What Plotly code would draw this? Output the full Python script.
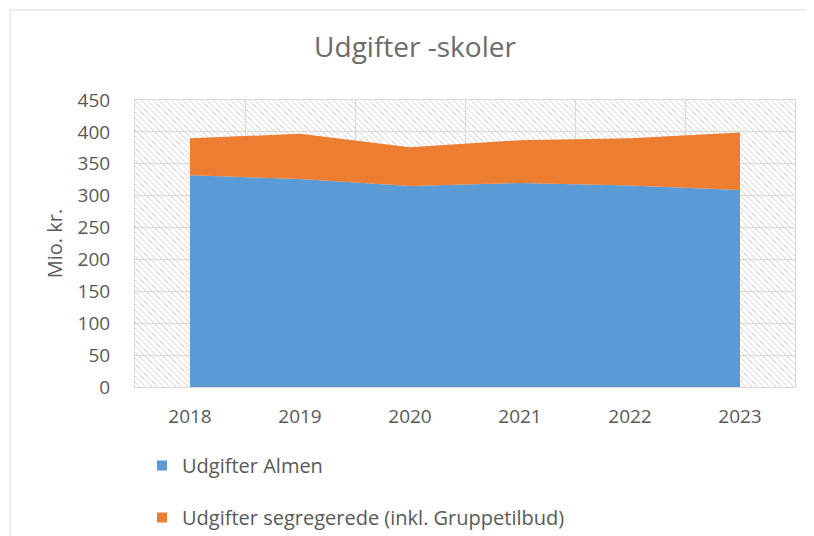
import base64
import plotly.graph_objects as go

years = ["2018", "2019", "2020", "2021", "2022", "2023"]
almen = [332, 326, 315, 320, 316, 309]
segregerede = [58, 71, 61, 67, 74, 90]
name_almen = "Udgifter Almen"
name_seg = "Udgifter segregerede (inkl. Gruppetilbud)"
title_text = "Udgifter -skoler"
ytitle = "Mio. kr."
BLUE, ORANGE = "#5b9bd5", "#ed7d31"

FONT = "'Open Sans', sans-serif"
GRAY = "#595959"
GRID = "#d9d9d9"

# page body has an 8px margin, so all positions are shifted 8px up/left;
# the figure runs a little past the bottom of the window (chart frame is cut there)
W, H = 806, 560
L, R, T, B = 127, 19, 92, 0
PW, PH = W - L - R, H - T - B
PLOT_BOTTOM = 379
ydom0 = (H - B - PLOT_BOTTOM) / PH
PLOT_H = PLOT_BOTTOM - T

svg = (
    f'<svg xmlns="http://www.w3.org/2000/svg" width="{PW}" height="{PLOT_H}">'
    '<defs><pattern id="h" width="6" height="6" patternUnits="userSpaceOnUse">'
    '<path d="M0,0 L6,6 M-1,5 L1,7 M5,-1 L7,1" stroke="#d4d4d4" stroke-width="1"/>'
    '</pattern></defs>'
    f'<rect width="{PW}" height="{PLOT_H}" fill="#ffffff"/>'
    f'<rect width="{PW}" height="{PLOT_H}" fill="url(#h)"/></svg>'
)
svg_uri = "data:image/svg+xml;base64," + base64.b64encode(svg.encode()).decode()

fig = go.Figure()
fig.add_trace(go.Scatter(
    x=years, y=almen, name=name_almen, stackgroup="one", mode="none",
    fillcolor=BLUE, showlegend=False))
fig.add_trace(go.Scatter(
    x=years, y=segregerede, name=name_seg, stackgroup="one", mode="none",
    fillcolor=ORANGE, showlegend=False))
# legend entries (square swatches), one legend each so they can be spaced apart
for nm, col, lg in [(name_almen, BLUE, "legend"), (name_seg, ORANGE, "legend2")]:
    fig.add_trace(go.Scatter(
        x=[None], y=[None], mode="markers", name=nm, legend=lg,
        marker=dict(symbol="square", size=10, color=col)))

def legend_at(center_y):
    top = center_y - 19
    return dict(x=(134 - L) / PW, xanchor="left", y=(H - B - top) / PH, yanchor="top",
                font=dict(size=20, color=GRAY, family=FONT),
                bgcolor="rgba(0,0,0,0)")

fig.update_layout(
    width=W, height=H,
    margin=dict(l=L, r=R, t=T, b=B),
    paper_bgcolor="white", plot_bgcolor="rgba(0,0,0,0)",
    font=dict(family=FONT, color=GRAY, size=18),
    title=dict(text=title_text, x=407 / W, xref="container", xanchor="center",
               y=1 - 39 / H, yref="container", yanchor="middle",
               font=dict(size=28, color="#6b6b6b", family=FONT)),
    showlegend=True,
    legend=legend_at(457),
    legend2=legend_at(509),
    xaxis=dict(type="category", range=[-0.5, 5.5], showgrid=True, gridcolor=GRID,
               tickson="boundaries", ticks="", showline=True, linecolor=GRID,
               mirror=True, tickfont=dict(size=19, color=GRAY), ticklabelstandoff=12,
               automargin=False),
    yaxis=dict(range=[0, 450], dtick=50, showgrid=True, gridcolor=GRID, ticks="",
               domain=[ydom0, 1], automargin=False,
               showline=True, linecolor=GRID, mirror=True, zeroline=False,
               tickfont=dict(size=19, color=GRAY), ticklabelstandoff=20,
               title=dict(text=ytitle, font=dict(size=20, color=GRAY), standoff=9)),
    images=[dict(source=svg_uri, xref="x domain", yref="y domain", x=0, y=1,
                 sizex=1, sizey=1, xanchor="left", yanchor="top",
                 sizing="stretch", layer="below")],
    shapes=[dict(type="rect", xref="paper", yref="paper",
                 x0=(2 - L) / PW, x1=(W + 5 - L) / PW,
                 y0=-0.05, y1=(H - B - 2) / PH,
                 line=dict(color="#d9d9d9", width=1), fillcolor="rgba(0,0,0,0)",
                 layer="below")],
)

fig.write_html("out.html")
